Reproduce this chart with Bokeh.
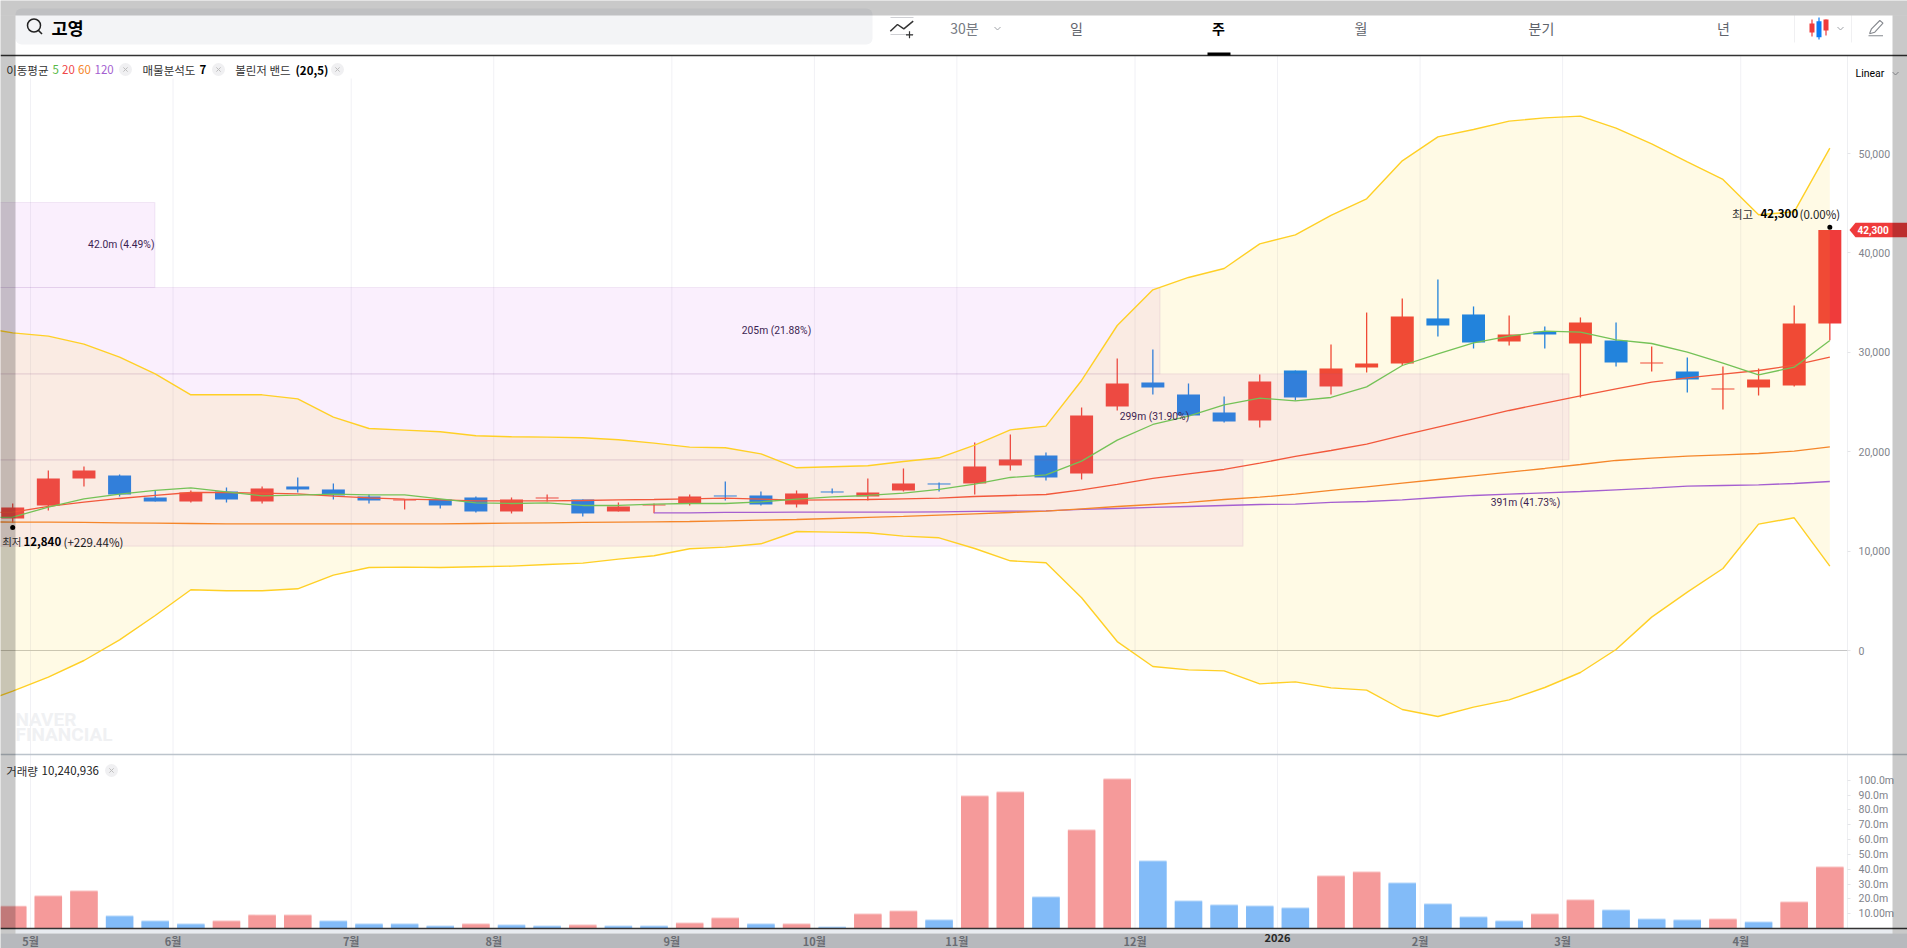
from bokeh.plotting import figure
from bokeh.models import Range1d, LinearAxis, FixedTicker, BoxAnnotation, NumeralTickFormatter
from bokeh.core.properties import value
from bokeh.embed import file_html
from bokeh.resources import INLINE

# ---------- data ----------
opens  = [13282,14590,17306,17607,15394,14992,15998,14992,16501,16200,15495,15092,15193,15394,13986,15293,15193,13986,
          14590,14791,15596,15596,14690,15998,15495,16099,16803,16803,18614,19619,17809,24548,26963,25755,23945,23140,
          28170,26560,28471,28874,33406,33806,31087,32092,30885,31187,28874,28069,26258,26460,26661,32900]
highs  = [14791,18110,18513,17708,16065,16099,16401,16501,17406,16803,15696,15193,15193,15495,15394,15696,15193,14892,
          14791,15696,17004,15998,16099,16300,17306,18312,16903,20927,21731,19921,24448,29377,30282,26862,25554,27767,
          28170,30785,34000,35417,37328,34612,33706,32595,33505,32998,30584,29477,28572,28371,34712,42300]
lows   = [12840,14087,16501,15495,14992,14892,14892,14791,15897,15193,14791,14188,14288,13886,13785,14992,13483,13986,
          13820,14590,15092,14590,14389,15797,15092,15998,15998,15696,18110,17105,17205,24146,25755,23643,22939,22436,
          25152,25755,27968,28672,31590,30383,30684,30383,25454,28572,28069,25956,24247,25655,26560,31200]
closes = [14389,17306,18110,15696,14992,15897,15193,16300,16200,15596,15092,15193,14590,13986,15193,15394,13785,14489,
          14690,15495,15495,14690,15797,15897,15897,16803,16702,18513,19217,17406,23643,26862,26460,23643,23039,27063,
          25454,28371,28874,33606,32696,30986,31791,31791,32998,28974,28974,27264,26359,27264,32897,42300]
volumes = [15.3,22.3,25.6,8.8,5.4,3.4,5.4,9.4,9.4,5.4,3.4,3.4,2.0,3.4,2.7,2.0,2.7,2.0,
           2.0,4.0,7.4,3.4,3.4,1.3,10.1,12.1,6.1,89.7,92.4,21.6,66.8,101.2,45.9,18.9,16.2,15.5,
           14.2,35.8,38.5,31.0,16.9,8.1,5.4,10.1,19.6,12.8,6.7,6.1,6.7,4.7,18.2,41.8]
volume_up = [1,1,1,0,0,0,1,1,1,0,0,0,0,1,0,0,1,0,
             0,1,1,0,1,0,1,1,0,1,1,0,1,1,0,0,0,0,
             0,1,1,0,0,0,0,1,1,0,0,0,1,0,1,1]
# moving averages and bands start one week before the first visible candle
ma5 = [13350,13416,14422,15261,15730,16099,16367,15965,15562,15629,15730,15663,15663,15261,14858,14791,14858,14590,14590,
       14724,14791,14791,14959,15227,15461,15596,15830,16200,16736,17406,17675,19049,21162,22738,23576,24716,25387,
       25118,25454,26527,28672,29846,30952,31623,32126,32025,31254,30885,30014,28907,27734,28505,31187]
ma20 = [13852,13919,14489,14925,15294,15596,15897,15897,15830,15763,15528,15361,15227,15160,15059,15059,15059,15093,15160,
        15193,15261,15328,15227,15126,15160,15193,15261,15328,15495,15596,15696,16166,16702,17306,17775,18211,18848,
        19519,20122,20759,21631,22469,23308,24146,24884,25621,26325,26996,27432,27800,28170,28706,29511]
ma60 = [12947,12913,12913,12880,12846,12813,12779,12746,12746,12746,12746,12746,12746,12746,12779,12813,12846,12880,12913,
        12947,12980,13047,13114,13181,13282,13383,13484,13617,13751,13885,14020,14255,14489,14690,14892,15193,15428,
        15730,16099,16468,16836,17205,17574,17943,18312,18714,19117,19351,19552,19687,19821,20055,20491]
ma120_start = 18
ma120 = [13852,13852,13886,13886,13919,13919,13919,13919,13953,13987,14020,14054,14188,14288,14389,14489,14590,14690,
         14724,14892,14992,15160,15394,15596,15730,15864,15998,16166,16334,16535,16602,16669,16803,17004]
bb_upper = [32528,31958,31623,30818,29511,27834,25722,25722,25722,25319,23475,22335,22168,22000,21598,21497,21463,21397,21195,
            20860,20458,20391,19787,18379,18479,18580,19016,19385,20659,22201,22570,27164,32696,36288,37529,38434,40915,
            41820,43765,45441,49264,51678,52416,53254,53589,53757,52550,50974,49163,47386,43832,44134,50538]
bb_lower = [-5365,-4091,-2682,-1006,1073,3525,6107,6006,6006,6207,7582,8354,8387,8354,8421,8488,8655,8790,9192,
            9527,10231,10399,10734,11975,11908,11841,11506,11337,10265,9024,8822,5303,900,-1609,-1945,-2045,-3353,
            -3152,-3755,-3990,-5935,-6639,-5700,-4962,-3722,-2213,100,3357,5872,8253,12712,13349,8488]
profile_top    = [45070,36519,27837,19185]
profile_bottom = [36519,27837,19185,10493]
profile_reach  = [3.99,32.2,43.68,34.53]
month_ticks  = [0.5,4.5,9.5,13.5,18.5,22.5,26.5,31.5,39.5,43.5,48.5]
month_labels = ["5월","6월","7월","8월","9월","10월","11월","12월","2월","3월","4월"]
year_tick = 35.5
year_label = "2026"
price_ticks = [0,10000,20000,30000,40000,50000]
volume_ticks = [10,20,30,40,50,60,70,80,90,100]
volume_tick_labels = ["10.00m","20.0m","30.0m","40.0m","50.0m","60.0m","70.0m","80.0m","90.0m","100.0m"]

# ---------- scales: page pixel <-> data ----------
W, H = 1907, 948
X0, DX = 12.2, 35.63
ZERO_Y, PY = 650.0, 0.00994
BASE_Y, VY = 928.0, 1.482
def X(px): return (px - X0) / DX
def Y(py): return (ZERO_Y - py) / PY

KR = "Noto Sans CJK KR"
RED, BLUE = "#ef3b3b", "#0a7bf5"

p = figure(width=W, height=H, output_backend="svg", toolbar_location=None,
           x_axis_type=None, y_axis_type=None, min_border=0,
           x_range=Range1d(X(0), X(W)), y_range=Range1d(Y(H), Y(0)),
           background_fill_color="white", border_fill_color="white", outline_line_color=None,
           margin=(0, 0, 0, 0))
p.grid.visible = False
p.extra_y_ranges = {"vol": Range1d((BASE_Y - H) / VY, BASE_Y / VY)}

def txt(px, py, s, color="#333333", size=12, weight="normal", align="left", font=KR):
    p.text([X(px)], [Y(py)], text=[s], text_color=color, text_font_size=f"{size}px", text_font_style=weight,
           text_align=align, text_baseline="middle", text_font=value(font))
def pline(xs, ys, color, width=1.0):
    p.line([X(a) for a in xs], [Y(b) for b in ys], line_color=color, line_width=width)
def pbox(l, r, t, b, color, **kw):
    p.quad(left=[X(l)], right=[X(r)], top=[Y(t)], bottom=[Y(b)], fill_color=color, line_color=None, **kw)
def chevron(cx, cy):
    pline([cx - 3, cx, cx + 3], [cy - 1.5, cy + 1.5, cy - 1.5], "#a0a3a8", 1.0)

# ---------- background bands, grid ----------
pbox(15, 1892, 928, 933, "#e8ebf0")
pbox(0, W, 933, H, "#e8ebf0")
all_ticks = sorted(month_ticks + [year_tick])
p.segment(x0=all_ticks, y0=[Y(55)] * len(all_ticks), x1=all_ticks, y1=[Y(928)] * len(all_ticks),
          line_color="#f1f1f5", line_width=1)
pbox(0, 352, 56, 78, "white")
pline([1847, 1847], [55, 928], "#eeeff2")
pline([0, 1847], [650, 650], "#c6c6c6", 1.2)

# ---------- candles ----------
idx = list(range(len(opens)))
up = [c >= o for o, c in zip(opens, closes)]
cols = [RED if u else BLUE for u in up]
p.segment(x0=idx, y0=lows, x1=idx, y1=highs, line_color=cols, line_width=1.3)
p.vbar(x=idx, width=0.645, bottom=[min(o, c) for o, c in zip(opens, closes)],
       top=[max(o, c) for o, c in zip(opens, closes)], fill_color=cols, line_color=None)

# ---------- volume profile ----------
p.quad(left=[X(-2)] * 4, right=profile_reach, top=profile_top, bottom=profile_bottom,
       fill_color="#c34beb", fill_alpha=0.09, line_color="#8a4ea8", line_alpha=0.1, line_width=1.2)

# ---------- Bollinger band ----------
line_idx = list(range(-1, len(opens)))
p.varea(x=line_idx, y1=bb_lower, y2=bb_upper, fill_color="#ffcc00", fill_alpha=0.1)
p.line(line_idx, bb_upper, line_color="#ffd026", line_width=1.4)
p.line(line_idx, bb_lower, line_color="#ffd026", line_width=1.4)

# ---------- moving averages ----------
p.line(idx[ma120_start:], ma120, line_color="#a55fd0", line_width=1.3)
p.line(line_idx, ma60, line_color="#f5862a", line_width=1.3)
p.line(line_idx, ma20, line_color="#f2583c", line_width=1.3)
p.line(line_idx, ma5, line_color="#74c257", line_width=1.3)

# ---------- volume bars ----------
vtop_offset = 1.0 / VY
v_pale = ["#f9c2c2" if u else "#b7d8fa" for u in volume_up]
v_full = ["#f59a9a" if u else "#82bbf8" for u in volume_up]
p.vbar(x=idx, width=0.77, bottom=0, top=volumes, fill_color=v_pale, line_color=None, y_range_name="vol")
p.vbar(x=idx, width=0.77, bottom=0, top=[max(v - vtop_offset, 0) for v in volumes], fill_color=v_full,
       line_color=None, y_range_name="vol")
pline([0, W], [754, 754], "#bcc4cc", 1.3)
pline([0, W], [928, 928], "#333333", 1.3)

# ---------- axes ----------
pax = LinearAxis(fixed_location=X(1847), ticker=FixedTicker(ticks=price_ticks),
                 formatter=NumeralTickFormatter(format="0,0"))
vax = LinearAxis(fixed_location=X(1847), y_range_name="vol", ticker=FixedTicker(ticks=volume_ticks),
                 major_label_overrides=dict(zip(volume_ticks, volume_tick_labels)))
for ax in (pax, vax):
    ax.axis_line_color = None
    ax.minor_tick_line_color = None
    ax.major_tick_in = 0
    ax.major_tick_out = 3
    ax.major_tick_line_color = "#e4e5e8"
    ax.major_label_text_color = "#7f848c"
    ax.major_label_text_font = "Roboto"
    ax.major_label_text_font_size = "10.5px"
    ax.major_label_standoff = 8
    p.add_layout(ax, "right")
mx = LinearAxis(fixed_location=Y(928), ticker=FixedTicker(ticks=month_ticks),
                major_label_overrides=dict(zip(month_ticks, month_labels)))
yx = LinearAxis(fixed_location=Y(928), ticker=FixedTicker(ticks=[year_tick]),
                major_label_overrides={year_tick: year_label})
for ax, col in ((mx, "#868a92"), (yx, "#333333")):
    ax.axis_line_color = None
    ax.minor_tick_line_color = None
    ax.major_tick_line_color = None
    ax.major_label_text_color = col
    ax.major_label_text_font = KR
    ax.major_label_text_font_size = "11px"
    ax.major_label_text_font_style = "bold"
    ax.major_label_standoff = -2
    p.add_layout(ax, "below")

# ---------- profile labels ----------
PL = "#3d1f52"
txt(154, 244, "42.0m (4.49%)", PL, 10.3, align="right", font="Roboto")
txt(776, 330, "205m (21.88%)", PL, 10.3, align="center", font="Roboto")
txt(1154, 416, "299m (31.90%)", PL, 10.3, align="center", font="Roboto")
txt(1525, 502, "391m (41.73%)", PL, 10.3, align="center", font="Roboto")

# ---------- hi / lo markers ----------
p.scatter([0], [Y(527)], size=5, marker="circle", fill_color="black", line_color=None)
txt(21, 541, "최저", "#333333", 10.5, align="right")
txt(23, 541, "12,840", "black", 11.5, "bold")
txt(63, 541, "(+229.44%)", "#222222", 11.5)
p.scatter([51], [Y(226.7)], size=5, marker="circle", fill_color="black", line_color=None)
txt(1731.5, 213, "최고", "#333333", 11.5)
txt(1760, 213, "42,300", "black", 11.5, "bold")
txt(1799, 213, "(0.00%)", "#222222", 11.5)

# last price tag
ty = ZERO_Y - closes[-1] * PY
p.patch([X(a) for a in (1849, 1855, W, W, 1855)], [Y(b) for b in (ty, ty - 7.3, ty - 7.3, ty + 7.3, ty + 7.3)],
        fill_color=RED, line_color=None)
txt(1857, ty, "42,300", "white", 10, "bold", font="Roboto")

# ---------- watermark ----------
txt(15, 719, "NAVER", "#f0f1f3", 19, "bold", font="Roboto")
txt(15, 734, "FINANCIAL", "#f0f1f3", 19, "bold", font="Roboto")

# ---------- legend row ----------
txt(5.7, 69, "이동평균", "#333333", 11.5)
txt(52, 69, "5", "#58b947", 11.5)
txt(61.6, 69, "20", "#f0484a", 11.5)
txt(77.5, 69, "60", "#f5862a", 11.5)
txt(94, 69, "120", "#a55fd0", 11.5)
txt(142, 69, "매물분석도", "#333333", 11.5)
txt(199, 69, "7", "black", 11.5, "bold")
txt(234.7, 69, "볼린저 밴드", "#333333", 11.5)
txt(295, 69, "(20,5)", "black", 11.5, "bold")
txt(5.7, 770, "거래량", "#333333", 11.5)
txt(41, 770, "10,240,936", "#222222", 11.5)
chip_x = [125, 218, 337, 111]
chip_y = [69, 69, 69, 770]
p.scatter([X(a) for a in chip_x], [Y(b) for b in chip_y], size=13, marker="circle", fill_color="#f0f0f2", line_color=None)
p.scatter([X(a) for a in chip_x], [Y(b) for b in chip_y], size=6, marker="x", line_color="#bdbdbd", line_width=1)

# ---------- header ----------
p.add_layout(BoxAnnotation(left=X(15), right=X(872), top=Y(8), bottom=Y(44), fill_color="#f3f4f6", fill_alpha=1,
                           line_color=None, border_radius=6, level="underlay"))
pline([0, W], [55, 55], "#333333", 1.4)
p.scatter([X(33.5)], [Y(25)], size=13, marker="circle", fill_color=None, line_color="#222222", line_width=1.5)
pline([38, 41.5], [30, 33.5], "#222222", 1.6)
txt(51, 27, "고영", "black", 17.5, "bold")
# add-indicator icon
pline([890, 913], [17, 17], "#cfd0d4")
pline([890, 913], [34, 34], "#cfd0d4")
pline([889.8, 897, 903.3, 912.7], [30.7, 24, 28.3, 20.7], "#333333", 1.5)
p.scatter([X(909)], [Y(34.3)], size=7, marker="cross", line_color="#333333", line_width=1.2)
txt(964, 27, "30분", "#777b83", 14, align="center")
chevron(997, 28)
txt(1076, 27, "일", "#5f646c", 14, align="center")
txt(1218, 27, "주", "black", 14, "bold", align="center")
pbox(1207, 1230, 52, 55, "black")
txt(1360.5, 27, "월", "#5f646c", 14, align="center")
txt(1541, 27, "분기", "#5f646c", 14, align="center")
txt(1723, 27, "년", "#5f646c", 14, align="center")
pline([1794, 1794], [15, 42], "#f0f0f2")
pline([1851, 1851], [15, 42], "#f0f0f2")
# chart-type icon
pline([1811.5, 1811.5], [19, 36], RED, 1.2)
pbox(1809, 1814, 23, 32, RED)
pline([1818.5, 1818.5], [17, 39], BLUE, 1.2)
pbox(1816, 1821, 20.7, 36.7, BLUE)
pline([1825.5, 1825.5], [19, 35], RED, 1.2)
pbox(1823, 1828, 19, 30, RED)
chevron(1840, 28)
# pencil
pline([1869, 1871, 1879.3, 1882.5, 1874.3, 1869], [33.3, 28.3, 20, 22.7, 31.7, 33.3], "#85888e", 1.1)
pline([1868, 1882.5], [35.3, 35.3], "#85888e", 1.1)
txt(1855, 73, "Linear", "black", 10.5, font="Roboto")
chevron(1895, 73)

# ---------- page-dimming frame ----------
for l, r, t, b in ((0, W, 0, 15), (0, 15, 15, 933), (1892, W, 15, 933), (0, W, 933, H)):
    p.quad(left=[X(l)], right=[X(r)], top=[Y(t)], bottom=[Y(b)], fill_color="black", fill_alpha=0.21,
           line_color=None, level="overlay")

open("out.html", "w").write(file_html(p, INLINE))
